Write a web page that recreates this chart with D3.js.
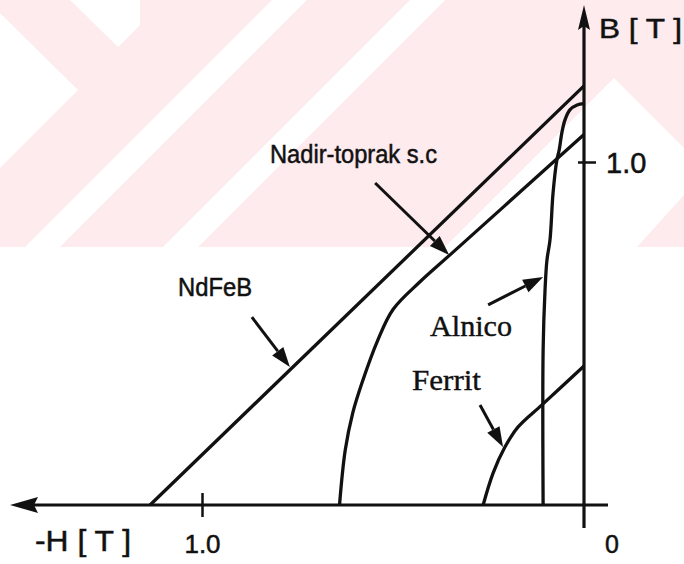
<!DOCTYPE html>
<html>
<head>
<meta charset="utf-8">
<title>B-H demagnetization curves</title>
<script src="https://cdn.jsdelivr.net/npm/d3@7"></script>
<style>
  body { margin: 0; background: #fff; }
  svg { display: block; }
  .sans { font-family: "Liberation Sans", Arial, sans-serif; stroke: #111; stroke-width: 0.5px; }
  .serif { font-family: "Liberation Serif", "Times New Roman", serif; stroke: #111; stroke-width: 0.4px; }
</style>
</head>
<body>
<svg id="chart" width="684" height="564"></svg>
<script>
// demagnetization curves, H = magnitude of -H [T], B [T]
const ndfebH = [0, 1.136];
const ndfebB = [1.222, 0];

const nadirH = [0, 0.07, 0.35, 0.43, 0.50, 0.54, 0.58, 0.605, 0.625, 0.64];
const nadirB = [1.08, 1.01, 0.73, 0.65, 0.57, 0.48, 0.36, 0.27, 0.16, 0];

const alnicoH = [0, 0.018, 0.037, 0.05, 0.058, 0.065, 0.071, 0.081, 0.089, 0.097, 0.102, 0.107, 0.107];
const alnicoB = [1.17, 1.166, 1.152, 1.122, 1.085, 1.035, 1.006, 0.91, 0.773, 0.714, 0.627, 0.452, 0];

const ferritH = [0, 0.11, 0.173, 0.207, 0.238, 0.264];
const ferritB = [0.405, 0.292, 0.227, 0.169, 0.093, 0];

const xTicks = [1.0];
const yTicks = [1.0];
const xTickLabels = ["1.0"];
const yTickLabels = ["1.0"];

const svg = d3.select("#chart");

// faint watermark in the top part of the scan
const wm = svg.append("g");
wm.append("rect").attr("x", 0).attr("y", 0).attr("width", 684).attr("height", 247).attr("fill", "#fdebee");
const whiteShapes = [
  [[0,13],[78,90],[0,168]],
  [[70,0],[140,0],[140,25],[118,47]],
  [[25,247],[60,247],[307,0],[272,0]],
  [[163,247],[198,247],[445,0],[410,0]],
  [[445,247],[614,78],[684,148],[684,195],[637,247]]
];
wm.selectAll("polygon").data(whiteShapes).enter().append("polygon")
  .attr("points", function(d){ return d.map(function(p){ return p.join(","); }).join(" "); })
  .attr("fill", "#fff");

const x = d3.scaleLinear().domain([0, 1]).range([584, 202]);
const y = d3.scaleLinear().domain([0, 1]).range([505, 162]);

const ink = "#111";

function zip(hs, bs){ return hs.map(function(h, i){ return [h, bs[i]]; }); }

// axes
const xAxis = d3.axisBottom(x).tickValues(xTicks).tickFormat(function(d, i){ return xTickLabels[i]; })
  .tickSize(12);
const gx = svg.append("g").attr("transform", "translate(0," + y(0) + ")").call(xAxis);
gx.select(".domain").remove();
gx.selectAll(".tick line").attr("y1", -12).attr("stroke", ink).attr("stroke-width", 2.5);
gx.selectAll(".tick text").attr("class", "sans").attr("font-size", 26).attr("fill", ink)
  .attr("y", 48).attr("dy", 0);

const yAxis = d3.axisRight(y).tickValues(yTicks).tickFormat(function(d, i){ return yTickLabels[i]; })
  .tickSize(12).tickPadding(10);
const gy = svg.append("g").attr("transform", "translate(" + x(0) + ",0)").call(yAxis);
gy.select(".domain").remove();
gy.selectAll(".tick line").attr("x1", -6).attr("stroke", ink).attr("stroke-width", 2.5);
gy.selectAll(".tick text").attr("class", "sans").attr("font-size", 29).attr("fill", ink).attr("dy", "0.36em");

// axis lines with arrows
svg.append("line").attr("x1", 22).attr("x2", 608).attr("y1", y(0)).attr("y2", y(0))
  .attr("stroke", ink).attr("stroke-width", 3.2);
svg.append("line").attr("x1", x(0)).attr("x2", x(0)).attr("y1", 20).attr("y2", 528)
  .attr("stroke", ink).attr("stroke-width", 3.2);
svg.append("path").attr("d", "M10," + y(0) + "L38," + (y(0) - 8) + "L34," + y(0) + "L38," + (y(0) + 8) + "Z").attr("fill", ink);
svg.append("path").attr("d", "M" + x(0) + ",5L" + (x(0) - 6) + ",30L" + x(0) + ",26L" + (x(0) + 6) + ",30Z").attr("fill", ink);

svg.append("text").attr("class", "sans").attr("x", 35).attr("y", 551).attr("font-size", 30)
  .attr("textLength", 96).attr("lengthAdjust", "spacingAndGlyphs").attr("fill", ink).text("-H [ T ]");
svg.append("text").attr("class", "sans").attr("x", 599).attr("y", 38).attr("font-size", 28)
  .attr("textLength", 83).attr("lengthAdjust", "spacingAndGlyphs").attr("fill", ink).text("B [ T ]");
svg.append("text").attr("class", "sans").attr("x", x(0) + 28).attr("y", 553).attr("font-size", 25)
  .attr("text-anchor", "middle").attr("fill", ink).text("0");

// curves
const line = d3.line().x(function(d){ return x(d[0]); }).y(function(d){ return y(d[1]); })
  .curve(d3.curveCatmullRom.alpha(0.5));

const curves = [zip(ndfebH, ndfebB), zip(nadirH, nadirB), zip(alnicoH, alnicoB), zip(ferritH, ferritB)];
svg.selectAll("path.curve").data(curves).enter().append("path")
  .attr("class", "curve")
  .attr("d", line)
  .attr("fill", "none")
  .attr("stroke", ink)
  .attr("stroke-width", 3.3);

// labels with arrows (tip in data units, tail offset in px)
const notes = [
  {text: "Nadir-toprak s.c", cls: "sans", size: 26, len: 167, tx: 270, ty: 163, h: 0.353, b: 0.729, dx: -74, dy: -72},
  {text: "NdFeB", cls: "sans", size: 25, len: 74, tx: 178, ty: 296, h: 0.770, b: 0.402, dx: -38, dy: -50},
  {text: "Alnico", cls: "serif", size: 29, len: 82, tx: 430, ty: 336, h: 0.107, b: 0.665, dx: -55, dy: 28},
  {text: "Ferrit", cls: "serif", size: 30, len: 69, tx: 412, ty: 390, h: 0.212, b: 0.169, dx: -23, dy: -42}
];

notes.forEach(function(n){
  svg.append("text").attr("class", n.cls).attr("x", n.tx).attr("y", n.ty)
    .attr("font-size", n.size).attr("textLength", n.len).attr("lengthAdjust", "spacingAndGlyphs")
    .attr("fill", ink).text(n.text);
  const x2 = x(n.h), y2 = y(n.b), x1 = x2 + n.dx, y1 = y2 + n.dy;
  const ang = Math.atan2(y2 - y1, x2 - x1);
  const L = 20, W = 7;
  const bx = x2 - L * Math.cos(ang), by = y2 - L * Math.sin(ang);
  svg.append("line").attr("x1", x1).attr("y1", y1).attr("x2", bx).attr("y2", by)
    .attr("stroke", ink).attr("stroke-width", 3);
  svg.append("path")
    .attr("d", "M" + x2 + "," + y2 +
      "L" + (bx + W * Math.sin(ang)) + "," + (by - W * Math.cos(ang)) +
      "L" + (bx - W * Math.sin(ang)) + "," + (by + W * Math.cos(ang)) + "Z")
    .attr("fill", ink);
});
</script>
</body>
</html>
